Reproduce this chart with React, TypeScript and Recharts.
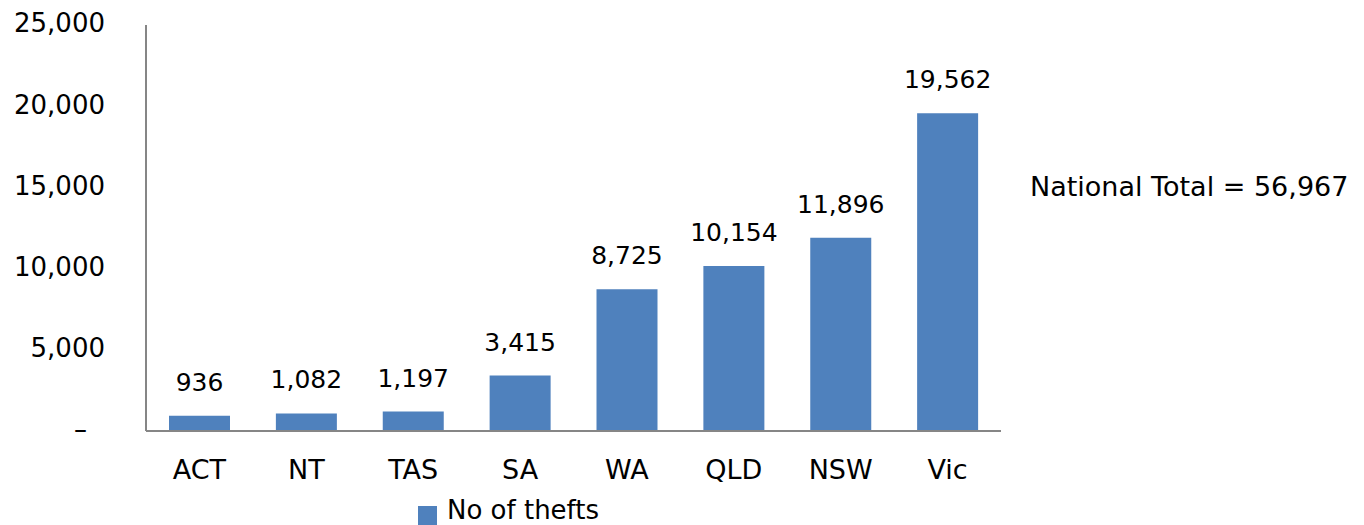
import React from "react";
import { BarChart, Bar, XAxis, YAxis, LabelList, Legend } from "recharts";

// Motor vehicle thefts by state, single series, Excel-style look.
const states = ["ACT", "NT", "TAS", "SA", "WA", "QLD", "NSW", "Vic"];
const thefts = [936, 1082, 1197, 3415, 8725, 10154, 11896, 19562];
const yTicks = [0, 5000, 10000, 15000, 20000, 25000];
const seriesName = "No of thefts";
const totalNote = "National Total = 56,967";

const FONT = "'DejaVu Sans', sans-serif";
const BLUE = "#4F81BD";
const AXIS = "#868686";

const data = states.map((name, i) => ({ name, thefts: thefts[i] }));
const fmt = (v: number) => v.toLocaleString("en-US");

function YTick({ x, y, payload }: { x: number; y: number; payload: { value: number } }) {
  const v = payload.value;
  return (
    <text x={v === 0 ? x - 18 : x} y={y - 2} dy="0.36em" textAnchor="end" fontFamily={FONT} fontSize={26} fill="#000">
      {v === 0 ? "–" : fmt(v)}
    </text>
  );
}

export default function App() {
  return (
    <div style={{ position: "absolute", left: 0, top: 0, width: 1364, height: 525, background: "#fff" }}>
      <BarChart width={1364} height={525} data={data} margin={{ top: 25, right: 363, bottom: 64, left: 0 }}>
        <XAxis dataKey="name" tickLine={false} tickSize={0} tickMargin={29} height={30}
          axisLine={{ stroke: AXIS, strokeWidth: 2 }}
          tick={{ fontFamily: FONT, fontSize: 27, fill: "#000" }} interval={0} />
        <YAxis domain={[0, 25000]} ticks={yTicks} width={146} tickLine={false} tickSize={0} tickMargin={41}
          axisLine={{ stroke: AXIS, strokeWidth: 2 }} tick={YTick as any} />
        <Legend layout="vertical" align="center" verticalAlign="middle" iconType="square" iconSize={19}
          wrapperStyle={{ left: 418, top: 495, width: 220, height: 32 }}
          formatter={(v: string) => <span style={{ color: "#000", fontFamily: FONT, fontSize: 26, paddingLeft: 6 }}>{v}</span>} />
        <Bar dataKey="thefts" name={seriesName} fill={BLUE} barSize={61} legendType="square" isAnimationActive={false}>
          <LabelList dataKey="thefts" position="top" offset={25} formatter={(v: number) => fmt(v)}
            style={{ fontFamily: FONT, fontSize: 25, fill: "#000" }} />
        </Bar>
      </BarChart>
      <div style={{ position: "absolute", left: 1030, top: 171, fontFamily: FONT, fontSize: 27, lineHeight: "32px", color: "#000", whiteSpace: "nowrap" }}>
        {totalNote}
      </div>
    </div>
  );
}
